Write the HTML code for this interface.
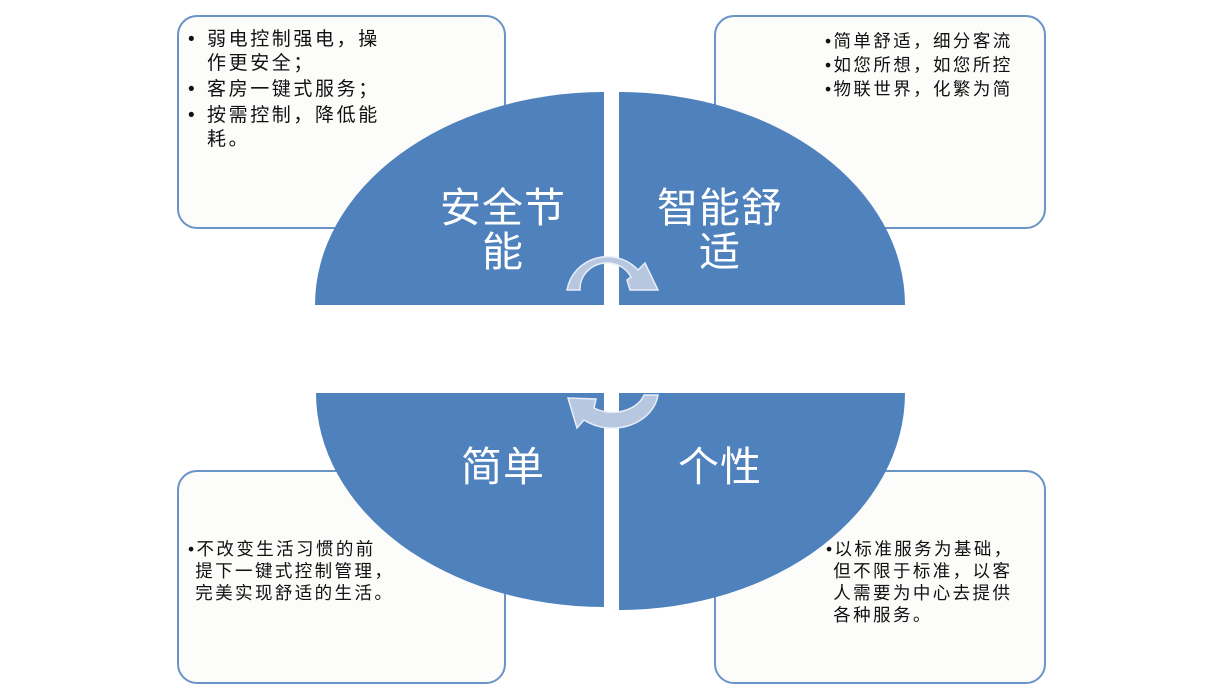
<!DOCTYPE html>
<html><head><meta charset="utf-8"><style>
body{margin:0;width:1220px;height:700px;background:#fff;overflow:hidden;position:relative;font-family:"Liberation Sans","Noto Sans CJK SC",sans-serif}
.box{position:absolute;background:#fcfcfa;border:2px solid #6a93c8;border-radius:20px;box-sizing:border-box}
.t{position:absolute;color:#111;font-size:17.5px;line-height:22px;white-space:nowrap;letter-spacing:2.4px}
.tl{position:absolute;color:#111;font-size:19px;line-height:24px;white-space:nowrap;letter-spacing:2.6px;left:207px}
.b{position:absolute;left:-19px}
.big{position:absolute;color:#fff;font-size:41px;line-height:44px;text-align:center;width:220px;letter-spacing:1px}
svg{position:absolute;left:0;top:0}
</style></head><body>
<div class="box" style="left:177px;top:15px;width:329px;height:214px"></div>
<div class="box" style="left:714px;top:15px;width:332px;height:214px"></div>
<div class="box" style="left:177px;top:470px;width:329px;height:214px"></div>
<div class="box" style="left:714px;top:470px;width:332px;height:214px"></div>
<div class="tl" style="top:28px"><span class="b">•</span>弱电控制强电，操<br>作更安全；</div>
<div class="tl" style="top:78px"><span class="b">•</span>客房一键式服务；</div>
<div class="tl" style="top:104px"><span class="b">•</span>按需控制，降低能<br>耗。</div>
<svg width="1220" height="700">
<path d="M604 305 L315 305 A289 213 0 0 1 604 92 Z" fill="#4f81bd"/>
<path d="M619 305 L905 305 A286 213 0 0 0 619 92 Z" fill="#4f81bd"/>
<path d="M604 393 L316 393 A288 214 0 0 0 604 607 Z" fill="#4f81bd"/>
<path d="M619 393 L905 393 A286 217 0 0 1 619 610 Z" fill="#4f81bd"/>
<path d="M567 290 A41 40 0 0 1 638 270 L645 263 L658 290 L630 290 L627 280 L631 277 A27 26 0 0 0 580 290 Z" fill="#b8c7e0" stroke="#e8eef7" stroke-width="1.5"/>
<path d="M658 395 A46 38 0 0 1 584 420 L577 428 L568 398 L596 399 L594 408 A33 25 0 0 0 644 395 Z" fill="#b8c7e0" stroke="#e8eef7" stroke-width="1.5"/>
</svg>
<div class="t" style="left:825px;top:29px;line-height:24px">•简单舒适，细分客流<br>•如您所想，如您所控<br>•物联世界，化繁为简</div>
<div class="t" style="left:188px;top:538px">•不改变生活习惯的前<br>&nbsp;提下一键式控制管理，<br>&nbsp;完美实现舒适的生活。</div>
<div class="t" style="left:826px;top:538px">•以标准服务为基础，<br>&nbsp;但不限于标准，以客<br>&nbsp;人需要为中心去提供<br>&nbsp;各种服务。</div>
<div class="big" style="left:393px;top:186px">安全节<br>能</div>
<div class="big" style="left:610px;top:186px">智能舒<br>适</div>
<div class="big" style="left:393px;top:445px">简单</div>
<div class="big" style="left:610px;top:445px">个性</div>
</body></html>
